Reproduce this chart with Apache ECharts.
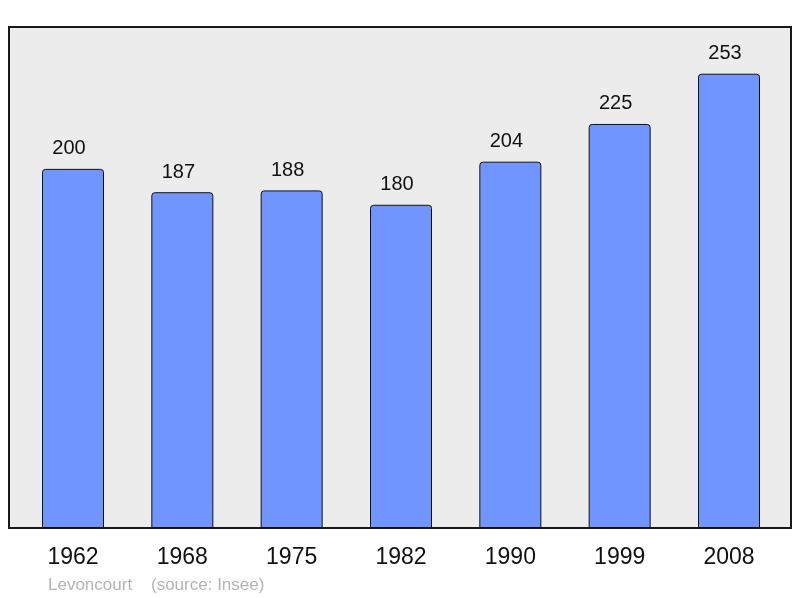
<!DOCTYPE html>
<html>
<head>
<meta charset="utf-8">
<script src="https://cdn.jsdelivr.net/npm/echarts@6/dist/echarts.min.js"></script>
<style>
  html, body { margin: 0; padding: 0; background: #fff; }
  #main { width: 800px; height: 598px; }
</style>
</head>
<body>
<div id="main"></div>
<script>
// population par année
var years = ['1962', '1968', '1975', '1982', '1990', '1999', '2008']
var population = [200, 187, 188, 180, 204, 225, 253]
var commune = 'Levoncourt'
var source = '(source: Insee)'

var myChart = echarts.init(document.getElementById('main'))
var option = {
  animation: false,
  backgroundColor: '#ffffff',
  textStyle: { fontFamily: 'Liberation Sans, Arial, sans-serif' },
  title: {
    text: commune + '    ' + source,
    left: 48,
    top: 577,
    padding: 0,
    textStyle: {
      color: '#b4b4b4',
      fontSize: 17,
      fontWeight: 'normal',
      fontFamily: 'Liberation Sans, Arial, sans-serif'
    }
  },
  grid: [
    // cadre gris
    {
      show: true,
      left: 9,
      right: 9,
      top: 27,
      bottom: 70,
      backgroundColor: '#ececec',
      borderColor: '#1a1a1a',
      borderWidth: 2
    },
    // barres
    {
      left: 18.33,
      right: 16.33,
      top: 27,
      bottom: 70
    }
  ],
  xAxis: [
    { gridIndex: 0, type: 'value', show: false },
    {
      gridIndex: 1,
      type: 'category',
      data: years,
      axisLine: { show: false },
      axisTick: { show: false },
      axisLabel: {
        margin: 18,
        fontSize: 23,
        color: '#111'
      }
    }
  ],
  yAxis: [
    { gridIndex: 0, type: 'value', show: false },
    {
      gridIndex: 1,
      type: 'value',
      min: 0,
      max: 279,
      show: false
    }
  ],
  series: [
    {
      type: 'bar',
      xAxisIndex: 1,
      yAxisIndex: 1,
      data: population,
      barWidth: 62,
      itemStyle: {
        color: '#7095ff',
        borderColor: '#111',
        borderWidth: 1,
        borderRadius: [3, 3, 0, 0]
      },
      label: {
        show: true,
        position: 'top',
        distance: 10,
        offset: [-4, 0],
        fontSize: 20,
        color: '#111'
      }
    }
  ]
}
myChart.setOption(option)
</script>
</body>
</html>
